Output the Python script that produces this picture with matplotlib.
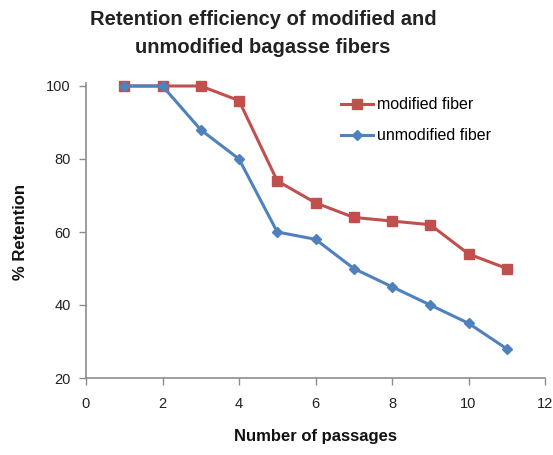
import matplotlib
matplotlib.use("Agg")
import matplotlib.pyplot as plt

passages = [1, 2, 3, 4, 5, 6, 7, 8, 9, 10, 11]
modified = [100, 100, 100, 96, 74, 68, 64, 63, 62, 54, 50]
unmodified = [100, 100, 88, 80, 60, 58, 50, 45, 40, 35, 28]
x_ticks = [0, 2, 4, 6, 8, 10, 12]
y_ticks = [20, 40, 60, 80, 100]

plt.rcParams['font.family'] = ['Liberation Sans', 'DejaVu Sans']

fig = plt.figure(figsize=(5.53, 4.55), dpi=100)
ax = fig.add_axes([86/553, 1-378/455, (545-86)/553, (378-86)/455])

red = '#C0504D'
blue = '#4F81BD'
ax.plot(passages, modified, color=red, lw=2.2, marker='s', ms=6.5, label='modified fiber', zorder=2, clip_on=False)
ax.plot(passages, unmodified, color=blue, lw=2.2, marker='D', ms=5.5, label='unmodified fiber', zorder=3, clip_on=False)

ax.set_xlim(0, 12)
ax.set_ylim(20, 100)
ax.set_xticks(x_ticks)
ax.set_yticks(y_ticks)
for s in ['top', 'right']:
    ax.spines[s].set_visible(False)
for s in ['left', 'bottom']:
    ax.spines[s].set_color('#8C8C8C')
    ax.spines[s].set_linewidth(1.2)
ax.spines['left'].set_bounds(20, 100.8)
ax.tick_params(axis='both', colors='#8C8C8C', labelcolor='#222222', labelsize=10.5, length=5, width=1.0, direction='out', pad=6)
ax.tick_params(axis='x', pad=9)

ax.set_xlabel('Number of passages', fontsize=12, fontweight='bold', labelpad=13, color='#111111')
ax.set_ylabel('% Retention', fontsize=12, fontweight='bold', labelpad=13, color='#111111')

fig.text(263/553, 1-33.5/455, 'Retention efficiency of modified and\nunmodified bagasse fibers',
         ha='center', va='center', fontsize=14.5, fontweight='bold', color='#222222', linespacing=1.6)

leg = ax.legend(loc='upper left', bbox_to_anchor=((327-86)/459, 1.01), frameon=False,
                fontsize=11.5, handlelength=2.0, handletextpad=0.25, labelspacing=1.0)

fig.savefig('out.png', dpi=100)
